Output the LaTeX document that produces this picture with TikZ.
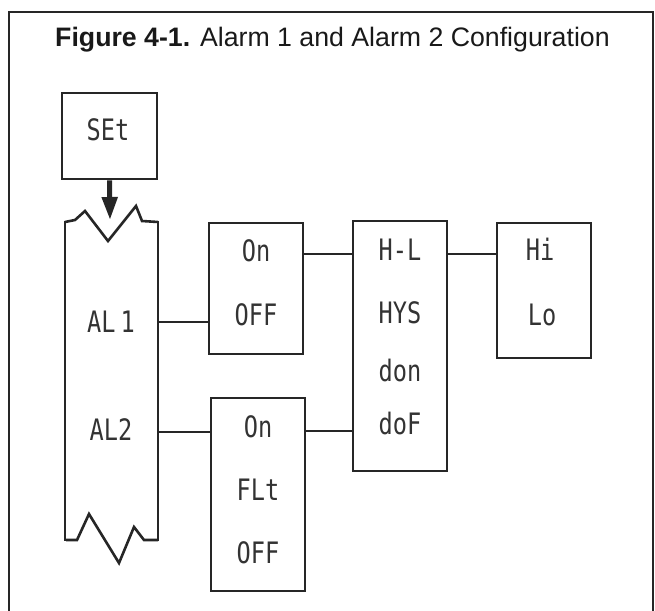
\documentclass[tikz,border=0pt]{standalone}
\usepackage{fontspec}
\setmainfont{Liberation Sans}
\newfontfamily\segfont[FakeStretch=0.8]{DejaVu Sans Mono}
\usetikzlibrary{arrows.meta}
\begin{document}
\begin{tikzpicture}[x=1pt,y=-1pt,
  box/.style={draw=black!85, line width=2.6pt, inner sep=0pt},
  seg/.style={font=\segfont\fontsize{29.5}{29.5}\selectfont, text=black!80, inner sep=0pt, text height=21.5pt, text depth=0pt},
  link/.style={draw=black!85, line width=2.6pt},
  outline/.style={draw=black!85, line width=2.6pt, line join=miter},
]
\useasboundingbox (0,0) rectangle (655,610);
% frame
\draw[line width=2pt, black!85] (9,618) -- (9,12) -- (653,12) -- (653,618);
% title
\node[anchor=base west, inner sep=0pt, font=\fontsize{26.7}{32}\selectfont, text=black!90] (title) at (55,47)
  {\textbf{Figure 4-1.} Alarm 1 and Alarm 2 Configuration};

% boxes
\node[box, minimum width=95pt, minimum height=86pt] (set) at (109.5,136) {};
\node[box, minimum width=94pt, minimum height=131pt] (box1) at (256,288.5) {};
\node[box, minimum width=94pt, minimum height=193pt] (box2) at (258,494.5) {};
\node[box, minimum width=94pt, minimum height=250pt] (hl) at (400,346) {};
\node[box, minimum width=94pt, minimum height=135pt] (hilo) at (544,290.5) {};

% banner
\coordinate (bannerL) at (65,0);
\coordinate (bannerR) at (158,0);
\coordinate (tip) at (110,220);
\draw[outline] (65,222) -- (75,220) -- (85,211) -- (108,241) -- (136,206) -- (142,221) -- (158,222);
\draw[outline] (66,540) -- (77,540) -- (89,514) -- (119,563) -- (134,527) -- (144,540) -- (158,540);
\draw[link] (bannerL |- 0,221) -- (bannerL |- 0,541);
\draw[link] (bannerR |- 0,221) -- (bannerR |- 0,541);

% texts
\node[seg] (tset) at (108,130) {SEt};
\node[seg] (al1) at (111,322) {AL\kern5pt 1};
\node[seg] (al2) at (111,430) {AL2};
\node[seg] (on1) at (256,251) {On};
\node[seg] (off1) at (256,315) {OFF};
\node[seg] (on2) at (258,427) {On};
\node[seg] (flt) at (258,490) {FLt};
\node[seg] (off2) at (258,553) {OFF};
\node[seg] (thl) at (400,250) {H-L};
\node[seg] (hys) at (400,313) {HYS};
\node[seg] (don) at (400,371) {don};
\node[seg] (dof) at (400,424) {doF};
\node[seg] (hi) at (540,250) {Hi};
\node[seg] (lo) at (542,315) {Lo};

% connectors
\draw[line width=5pt, draw=black!85, -{Triangle[length=23pt,width=15pt]}] (set.south) -- (tip);
\draw[link] (bannerR |- al1) -- (box1.west |- al1);
\draw[link] (bannerR |- 0,432) -- (box2.west |- 0,432);
\draw[link] (box1.east |- 0,254) -- (hl.west |- 0,254);
\draw[link] (box2.east |- 0,431) -- (hl.west |- 0,431);
\draw[link] (hl.east |- 0,254) -- (hilo.west |- 0,254);
\end{tikzpicture}
\end{document}
